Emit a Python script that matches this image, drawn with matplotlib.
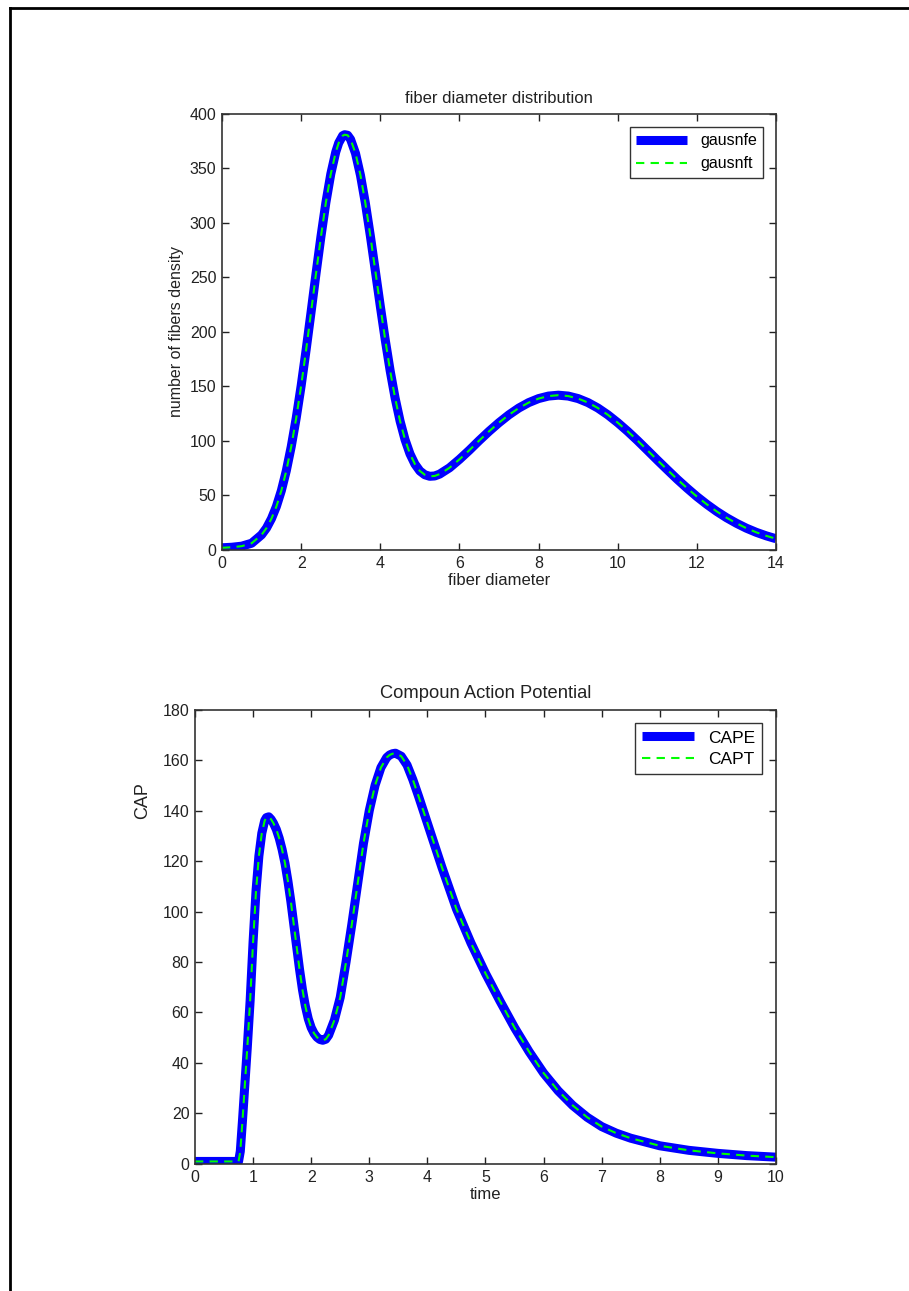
import matplotlib.pyplot as plt
from matplotlib.lines import Line2D

plt.rcParams['font.family'] = ['Liberation Sans', 'DejaVu Sans']

# fiber diameter distribution (estimated and theoretical curves coincide)
diameter = [0, 0.25, 0.5, 0.75, 1.0, 1.125, 1.25, 1.375, 1.5, 1.625, 1.75, 1.875, 2.0,
            2.125, 2.25, 2.375, 2.5, 2.625, 2.75, 2.875, 2.95, 3.05, 3.1, 3.175, 3.25,
            3.375, 3.5, 3.625, 3.75, 3.875, 4.0, 4.125, 4.25, 4.375, 4.5, 4.625, 4.75,
            4.875, 5.0, 5.125, 5.25, 5.375, 5.5, 5.75, 6.0, 6.25, 6.5, 6.75, 7.0, 7.25,
            7.5, 7.75, 8.0, 8.25, 8.5, 8.75, 9.0, 9.25, 9.5, 9.75, 10.0, 10.25, 10.5,
            10.75, 11.0, 11.25, 11.5, 11.75, 12.0, 12.25, 12.5, 12.75, 13.0, 13.25,
            13.5, 13.75, 14.0]
gausnfe = [2, 2.5, 3.5, 6.2, 13.9, 20.1, 28.7, 39.9, 54.4, 72.6, 94.8, 120.8, 150.5,
           183.3, 217.9, 253.2, 287.3, 318.6, 345, 365.1, 373.5, 380.1, 381, 380.5, 376.7,
           363.8, 343.7, 317.8, 288, 256.1, 223.9, 192.9, 164.4, 139.4, 118.3, 101.3, 88.2,
           78.8, 72.5, 69.0, 67.6, 67.9, 69.6, 75.4, 83.1, 91.5, 100.4, 108.9, 116.8, 124.0,
           130.2, 135.2, 138.9, 141.2, 142, 141.2, 138.9, 135.2, 130.2, 124.0, 116.8, 108.9, 100.4,
           91.5, 82.5, 73.7, 65.0, 56.8, 49.0, 41.9, 35.4, 29.6, 24.5, 20.0,
           16.2, 13.0, 10.3]
gausnft = list(gausnfe)

# compound action potential
time = [0, 0.5, 0.75, 0.78, 0.82, 0.86, 0.9, 0.95, 1.0, 1.05, 1.1, 1.15, 1.2, 1.23, 1.27,
        1.31, 1.35, 1.4, 1.45, 1.5, 1.55, 1.6, 1.65, 1.7, 1.75, 1.8, 1.85, 1.9, 1.95,
        2.0, 2.05, 2.1, 2.15, 2.2, 2.25, 2.3,
        2.4, 2.5, 2.6, 2.7, 2.8, 2.9, 3.0, 3.1, 3.2, 3.3, 3.35, 3.4, 3.45,
        3.55, 3.65, 3.75, 3.85, 3.95, 4.05, 4.25, 4.5, 4.75, 5.0, 5.25, 5.5, 5.75,
        6.0, 6.25, 6.5, 6.75, 7.0, 7.25, 7.5, 8.0, 8.5, 9.0, 9.5, 10.0]
cape = [1, 1, 1, 5, 18, 32, 46, 65, 88, 108, 122, 131, 136, 137.2, 137.5,
        136.5, 135, 132.5, 129, 124.5, 119, 112, 104, 95, 86, 77, 69, 62.5, 57.5,
        54, 51.7, 50.2, 49.3, 49, 49.4, 51,
        57, 66, 80, 95, 111, 127, 140, 150, 157, 161, 162, 162.5, 162.7,
        161.5, 158.0, 152.2, 145.5, 138.5, 131.5, 117.5, 101, 87.5, 75.5, 64.5, 54, 44.5,
        36, 29, 23.2, 18.5, 14.8, 12.2, 10.2, 7.2, 5.4, 4.2, 3.3, 2.7]
capt = list(cape)

txt = '#222222'

fig = plt.figure(figsize=(9.09, 12.91), dpi=100)

# page frame (left and top edges)
fig.add_artist(Line2D([0.011, 0.011], [0, 0.9938], transform=fig.transFigure, color='k', lw=2))
fig.add_artist(Line2D([0.011, 1.0], [0.9938, 0.9938], transform=fig.transFigure, color='k', lw=2))


def style(ax):
    ax.tick_params(direction='in', top=True, right=True, length=5, width=1,
                   labelsize=11.5, colors=txt, pad=4)
    for s in ax.spines.values():
        s.set_color('#333333')
        s.set_linewidth(1.2)


def curves(ax, x, ye, yt, le, lt):
    ax.plot(x, ye, color='#0000ff', lw=6.5, label=le,
            solid_joinstyle='round', solid_capstyle='butt')
    ax.plot(x, yt, color='#00ff00', lw=1.5, ls=(0, (4, 3)), label=lt,
            dash_joinstyle='round')


ax1 = fig.add_axes([0.2442, 0.5740, 0.6095, 0.3377])
curves(ax1, diameter, gausnfe, gausnft, 'gausnfe', 'gausnft')
ax1.set_xlim(0, 14)
ax1.set_ylim(0, 400)
ax1.set_xticks(range(0, 15, 2))
ax1.set_yticks(range(0, 401, 50))
ax1.set_title('fiber diameter distribution', fontsize=12, color=txt, pad=8)
ax1.set_xlabel('fiber diameter', fontsize=12, color=txt, labelpad=2)
ax1.set_ylabel('number of fibers density', fontsize=11.5, color=txt, labelpad=4)
style(ax1)
ax1.legend(loc='upper right', fontsize=11.5, fancybox=False, edgecolor='#333333',
           framealpha=1, handlelength=3.2, borderaxespad=0.8, labelspacing=0.5)

ax2 = fig.add_axes([0.2145, 0.0984, 0.6392, 0.352])
curves(ax2, time, cape, capt, 'CAPE', 'CAPT')
ax2.set_xlim(0, 10)
ax2.set_ylim(0, 180)
ax2.set_xticks(range(0, 11))
ax2.set_yticks(range(0, 181, 20))
ax2.set_title('Compoun Action Potential', fontsize=13.2, color=txt, pad=8)
ax2.set_xlabel('time', fontsize=12, color=txt, labelpad=2)
ax2.set_ylabel('CAP', fontsize=13, color=txt)
ax2.yaxis.set_label_coords(-0.075, 0.80)
style(ax2)
ax2.legend(loc='upper right', fontsize=12.5, fancybox=False, edgecolor='#333333',
           framealpha=1, handlelength=3.0, borderaxespad=0.8, labelspacing=0.35)

fig.savefig('out.png', dpi=100)
